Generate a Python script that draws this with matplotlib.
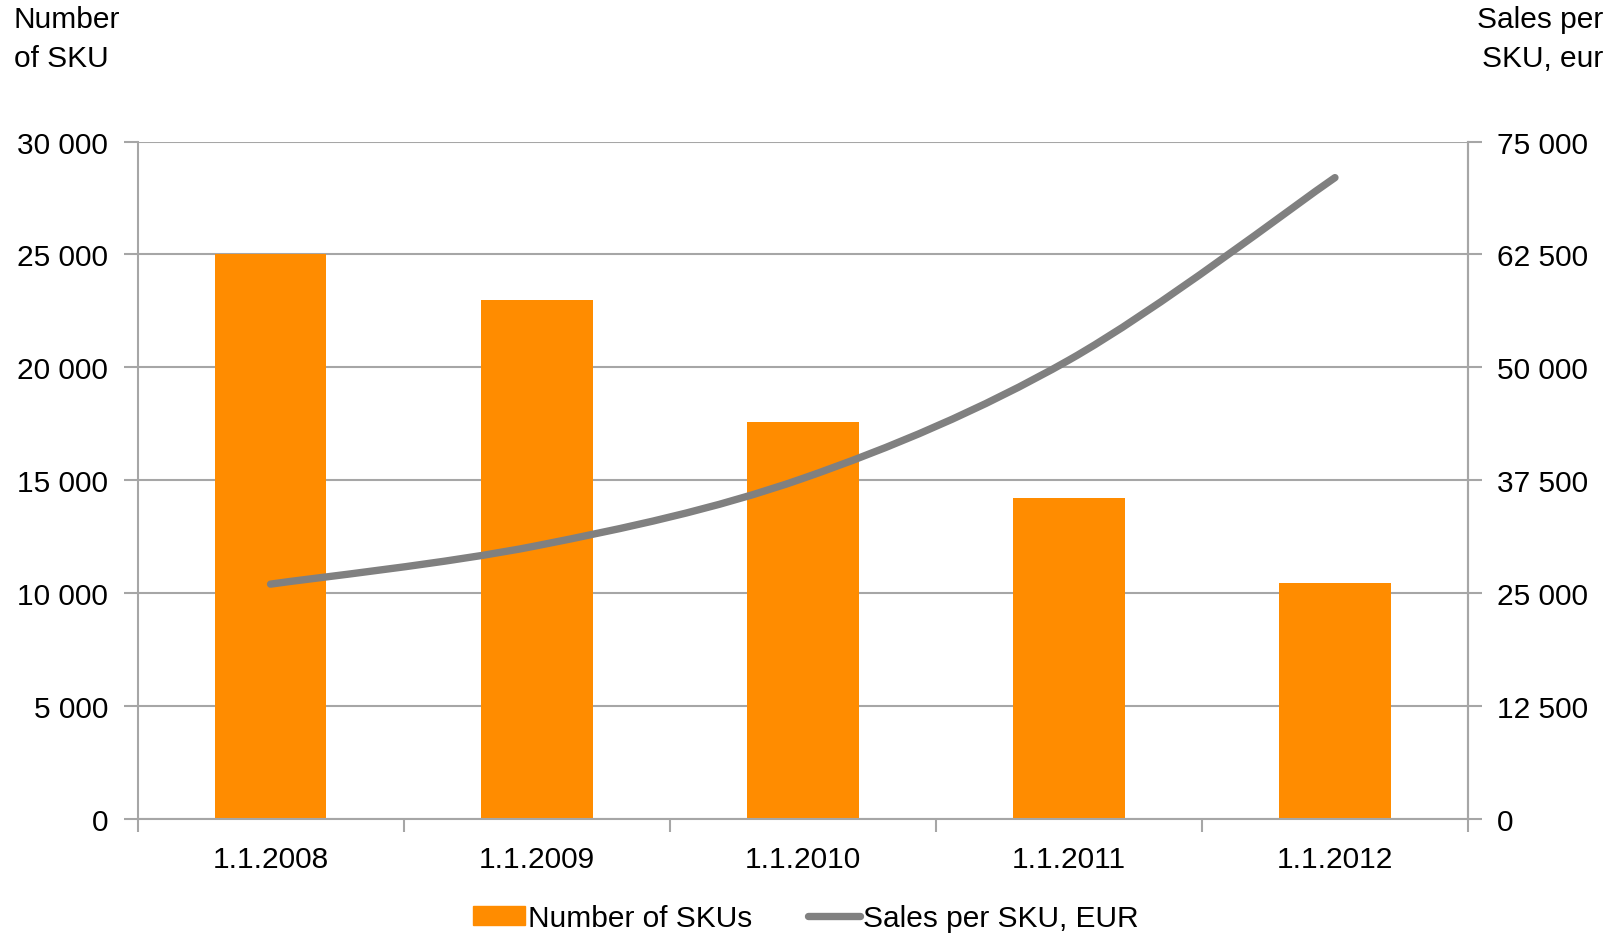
import matplotlib.pyplot as plt
import numpy as np
from matplotlib.path import Path
from matplotlib.patches import PathPatch
from matplotlib.lines import Line2D
from matplotlib.ticker import FuncFormatter

plt.rcParams['font.family'] = ['Liberation Sans', 'DejaVu Sans']

dates = ['1.1.2008', '1.1.2009', '1.1.2010', '1.1.2011', '1.1.2012']
sku_count = [25000, 23000, 17600, 14200, 10450]
sales_per_sku = [26000, 30250, 37700, 50800, 71000]

orange = '#ff8c00'
grey = '#808080'
grid_c = '#a6a6a6'
fs = 21.5


def spaced(v, pos):
    return f'{int(v):,}'.replace(',', ' ')


fig = plt.figure(figsize=(16.21, 9.37), dpi=100)
ax = fig.add_axes([137.5 / 1621, 1 - 820 / 937, (1468 - 137.5) / 1621, (820 - 142.5) / 937])
ax2 = ax.twinx()

x = np.arange(len(dates))
ax.bar(x, sku_count, width=0.42, color=orange, zorder=2)
ax.set_xlim(-0.5, len(dates) - 0.5)
ax.set_ylim(0, 30000)
ax.set_yticks(np.arange(0, 30001, 5000))
ax.yaxis.set_major_formatter(FuncFormatter(spaced))
ax.set_xticks(x)
ax.set_xticklabels(dates)
ax.set_xticks(np.arange(-0.5, len(dates), 1), minor=True)
ax.tick_params(axis='x', which='major', length=0, pad=19, labelsize=fs)
ax.tick_params(axis='x', which='minor', length=9, width=1.5, color=grid_c)
ax.tick_params(axis='y', length=10, width=1.5, color=grid_c, labelsize=fs, pad=11)
ax.grid(axis='y', color=grid_c, linewidth=1.5, zorder=0)
ax.set_axisbelow(True)
ax.spines['top'].set_visible(False)
for s in ['left', 'bottom', 'right']:
    ax.spines[s].set_color(grid_c)
    ax.spines[s].set_linewidth(1.5)

ax2.set_ylim(0, 75000)
ax2.set_yticks(np.arange(0, 75001, 12500))
ax2.yaxis.set_major_formatter(FuncFormatter(spaced))
ax2.tick_params(axis='y', length=10, width=1.5, color=grid_c, labelsize=fs, pad=11)
for s in ['top', 'left', 'bottom']:
    ax2.spines[s].set_visible(False)
ax2.spines['right'].set_color(grid_c)
ax2.spines['right'].set_linewidth(1.5)

# smoothed line: Catmull-Rom segments turned into cubic Bezier curves
pts = np.column_stack([x, sales_per_sku]).astype(float)
ext = np.vstack([pts[0], pts, pts[-1]])
verts = [tuple(pts[0])]
codes = [Path.MOVETO]
for i in range(len(pts) - 1):
    p0, p1, p2, p3 = ext[i], ext[i + 1], ext[i + 2], ext[i + 3]
    c1 = p1 + (p2 - p0) / 6
    c2 = p2 - (p3 - p1) / 6
    verts += [tuple(c1), tuple(c2), tuple(p2)]
    codes += [Path.CURVE4] * 3
ax2.add_patch(PathPatch(Path(verts, codes), facecolor='none', edgecolor=grey,
                        linewidth=5.3, capstyle='round', zorder=3))

fig.text(14 / 1621, 1 - 6 / 937, 'Number\nof SKU', ha='left', va='top', fontsize=fs, linespacing=1.5)
fig.text(1603 / 1621, 1 - 6 / 937, 'Sales per\nSKU, eur', ha='right', va='top', fontsize=fs, linespacing=1.5)

handles = [plt.Rectangle((0, 0), 1, 1, color=orange),
           Line2D([], [], color=grey, linewidth=5.3, solid_capstyle='round')]
fig.legend(handles, ['Number of SKUs', 'Sales per SKU, EUR'], loc='center',
           bbox_to_anchor=(0.497, 1 - 919 / 937), ncol=2, frameon=False, fontsize=fs,
           handlelength=1.75, handleheight=0.6, handletextpad=0.1, columnspacing=1.85)

fig.savefig('out.png', dpi=100)
